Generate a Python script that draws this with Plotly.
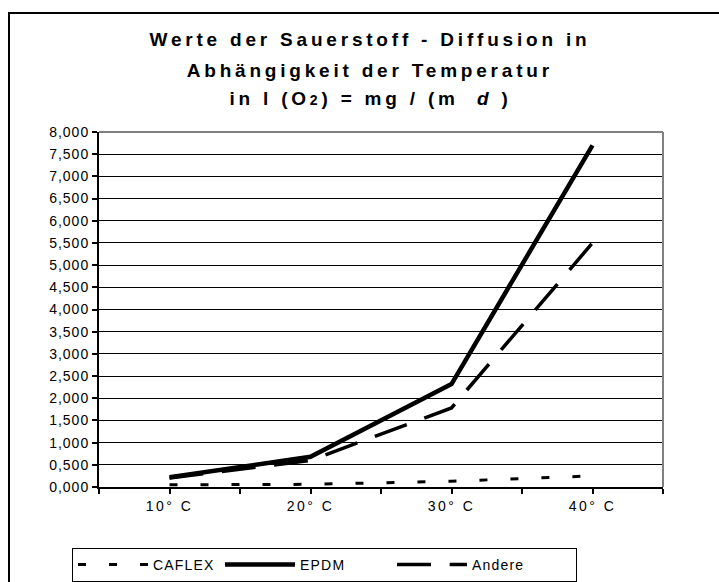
import plotly.graph_objects as go

temps = [10, 20, 30, 40]
tick_positions = [5, 10, 15, 20, 25, 30, 35, 40, 45]
tick_labels = ["", "10° C", "", "20° C", "", "30° C", "", "40° C", ""]
caflex = [0.05, 0.06, 0.13, 0.25]
epdm = [0.22, 0.68, 2.32, 7.70]
andere = [0.20, 0.60, 1.78, 5.50]

FONT = "Liberation Sans, Arial, sans-serif"

fig = go.Figure()
fig.add_trace(go.Scatter(x=temps, y=caflex, name="CAFLEX", mode="lines", legendwidth=62,
                         line=dict(color="black", width=3, dash="8px,23px")))
fig.add_trace(go.Scatter(x=temps, y=epdm, name="EPDM", mode="lines", legendwidth=87,
                         line=dict(color="black", width=4.5)))
fig.add_trace(go.Scatter(x=temps, y=andere, name="Andere", mode="lines", legendwidth=99,
                         line=dict(color="black", width=3.5, dash="34px,18.7px")))

L, R, T, B = 99, 56, 132, 95
W, H = 719, 582
pw, ph = W - L - R, H - T - B


def px_x(p):
    return (p - L) / pw


def px_y(p):
    return (H - B - p) / ph


title_lines = [
    "<b>Werte der Sauerstoff - Diffusion in</b>",
    "<b>Abhängigkeit der Temperatur</b>",
    "<b>in l (O<span style='font-size:14px'>2</span>) = mg / (m  <i>d</i> )</b>",
]
title_y = [40, 70, 99]
annotations = []
for t, yy in zip(title_lines, title_y):
    annotations.append(dict(text=t, xref="paper", yref="paper", x=px_x(370), y=px_y(yy),
                            xanchor="center", yanchor="middle", showarrow=False,
                            font=dict(family=FONT, size=19, color="black")))

shapes = [
    # outer chart frame
    dict(type="rect", xref="paper", yref="paper", x0=px_x(9), x1=px_x(740), y0=px_y(600), y1=px_y(13),
         line=dict(color="black", width=2), fillcolor="rgba(0,0,0,0)", layer="below"),
    # plot area top and right border (gray)
    dict(type="line", xref="paper", yref="paper", x0=0, x1=1, y0=1, y1=1,
         line=dict(color="#808080", width=2), layer="above"),
    dict(type="line", xref="paper", yref="paper", x0=1, x1=1, y0=0, y1=1,
         line=dict(color="#808080", width=2), layer="above"),
]

fig.update_layout(
    width=W, height=H,
    margin=dict(l=L, r=R, t=T, b=B, pad=0, autoexpand=False),
    paper_bgcolor="white", plot_bgcolor="white",
    separators=",.",
    font=dict(family=FONT, size=14, color="black"),
    showlegend=True,
    legend=dict(orientation="h", xref="container", yref="container",
                x=72 / W, y=1 - 548 / H, xanchor="left", yanchor="top",
                bordercolor="black", borderwidth=1, bgcolor="white",
                font=dict(family=FONT, size=14, color="black"),
                entrywidthmode="pixels", itemwidth=70, tracegroupgap=0),
    annotations=annotations,
    shapes=shapes,
    xaxis=dict(range=[5, 45], tickmode="array", tickvals=tick_positions, ticktext=tick_labels,
               ticks="outside", ticklen=5, tickwidth=1.5, tickcolor="black",
               showline=True, linecolor="black", linewidth=2, showgrid=False, zeroline=False,
               tickfont=dict(family=FONT, size=14, color="black"), fixedrange=True),
    yaxis=dict(range=[0, 8], dtick=0.5, tick0=0, tickformat=".3f",
               ticks="outside", ticklen=5, tickwidth=1.5, tickcolor="black",
               showline=True, linecolor="black", linewidth=2,
               showgrid=True, gridcolor="black", gridwidth=1.3, zeroline=False,
               tickfont=dict(family=FONT, size=14, color="black"), fixedrange=True),
)

post = """
document.body.style.margin = '0';
document.body.style.overflow = 'hidden';
var gd = document.getElementById('{plot_id}');
function ls(sel, v) { gd.querySelectorAll(sel).forEach(function (e) { e.style.letterSpacing = v; }); }
ls('text.annotation-text', '3.8px');
ls('g.xtick text', '2.5px');
ls('g.ytick text', '1px');
ls('text.legendtext', '1.2px');
"""

fig.write_html("out.html", post_script=post, config={"displayModeBar": False})
